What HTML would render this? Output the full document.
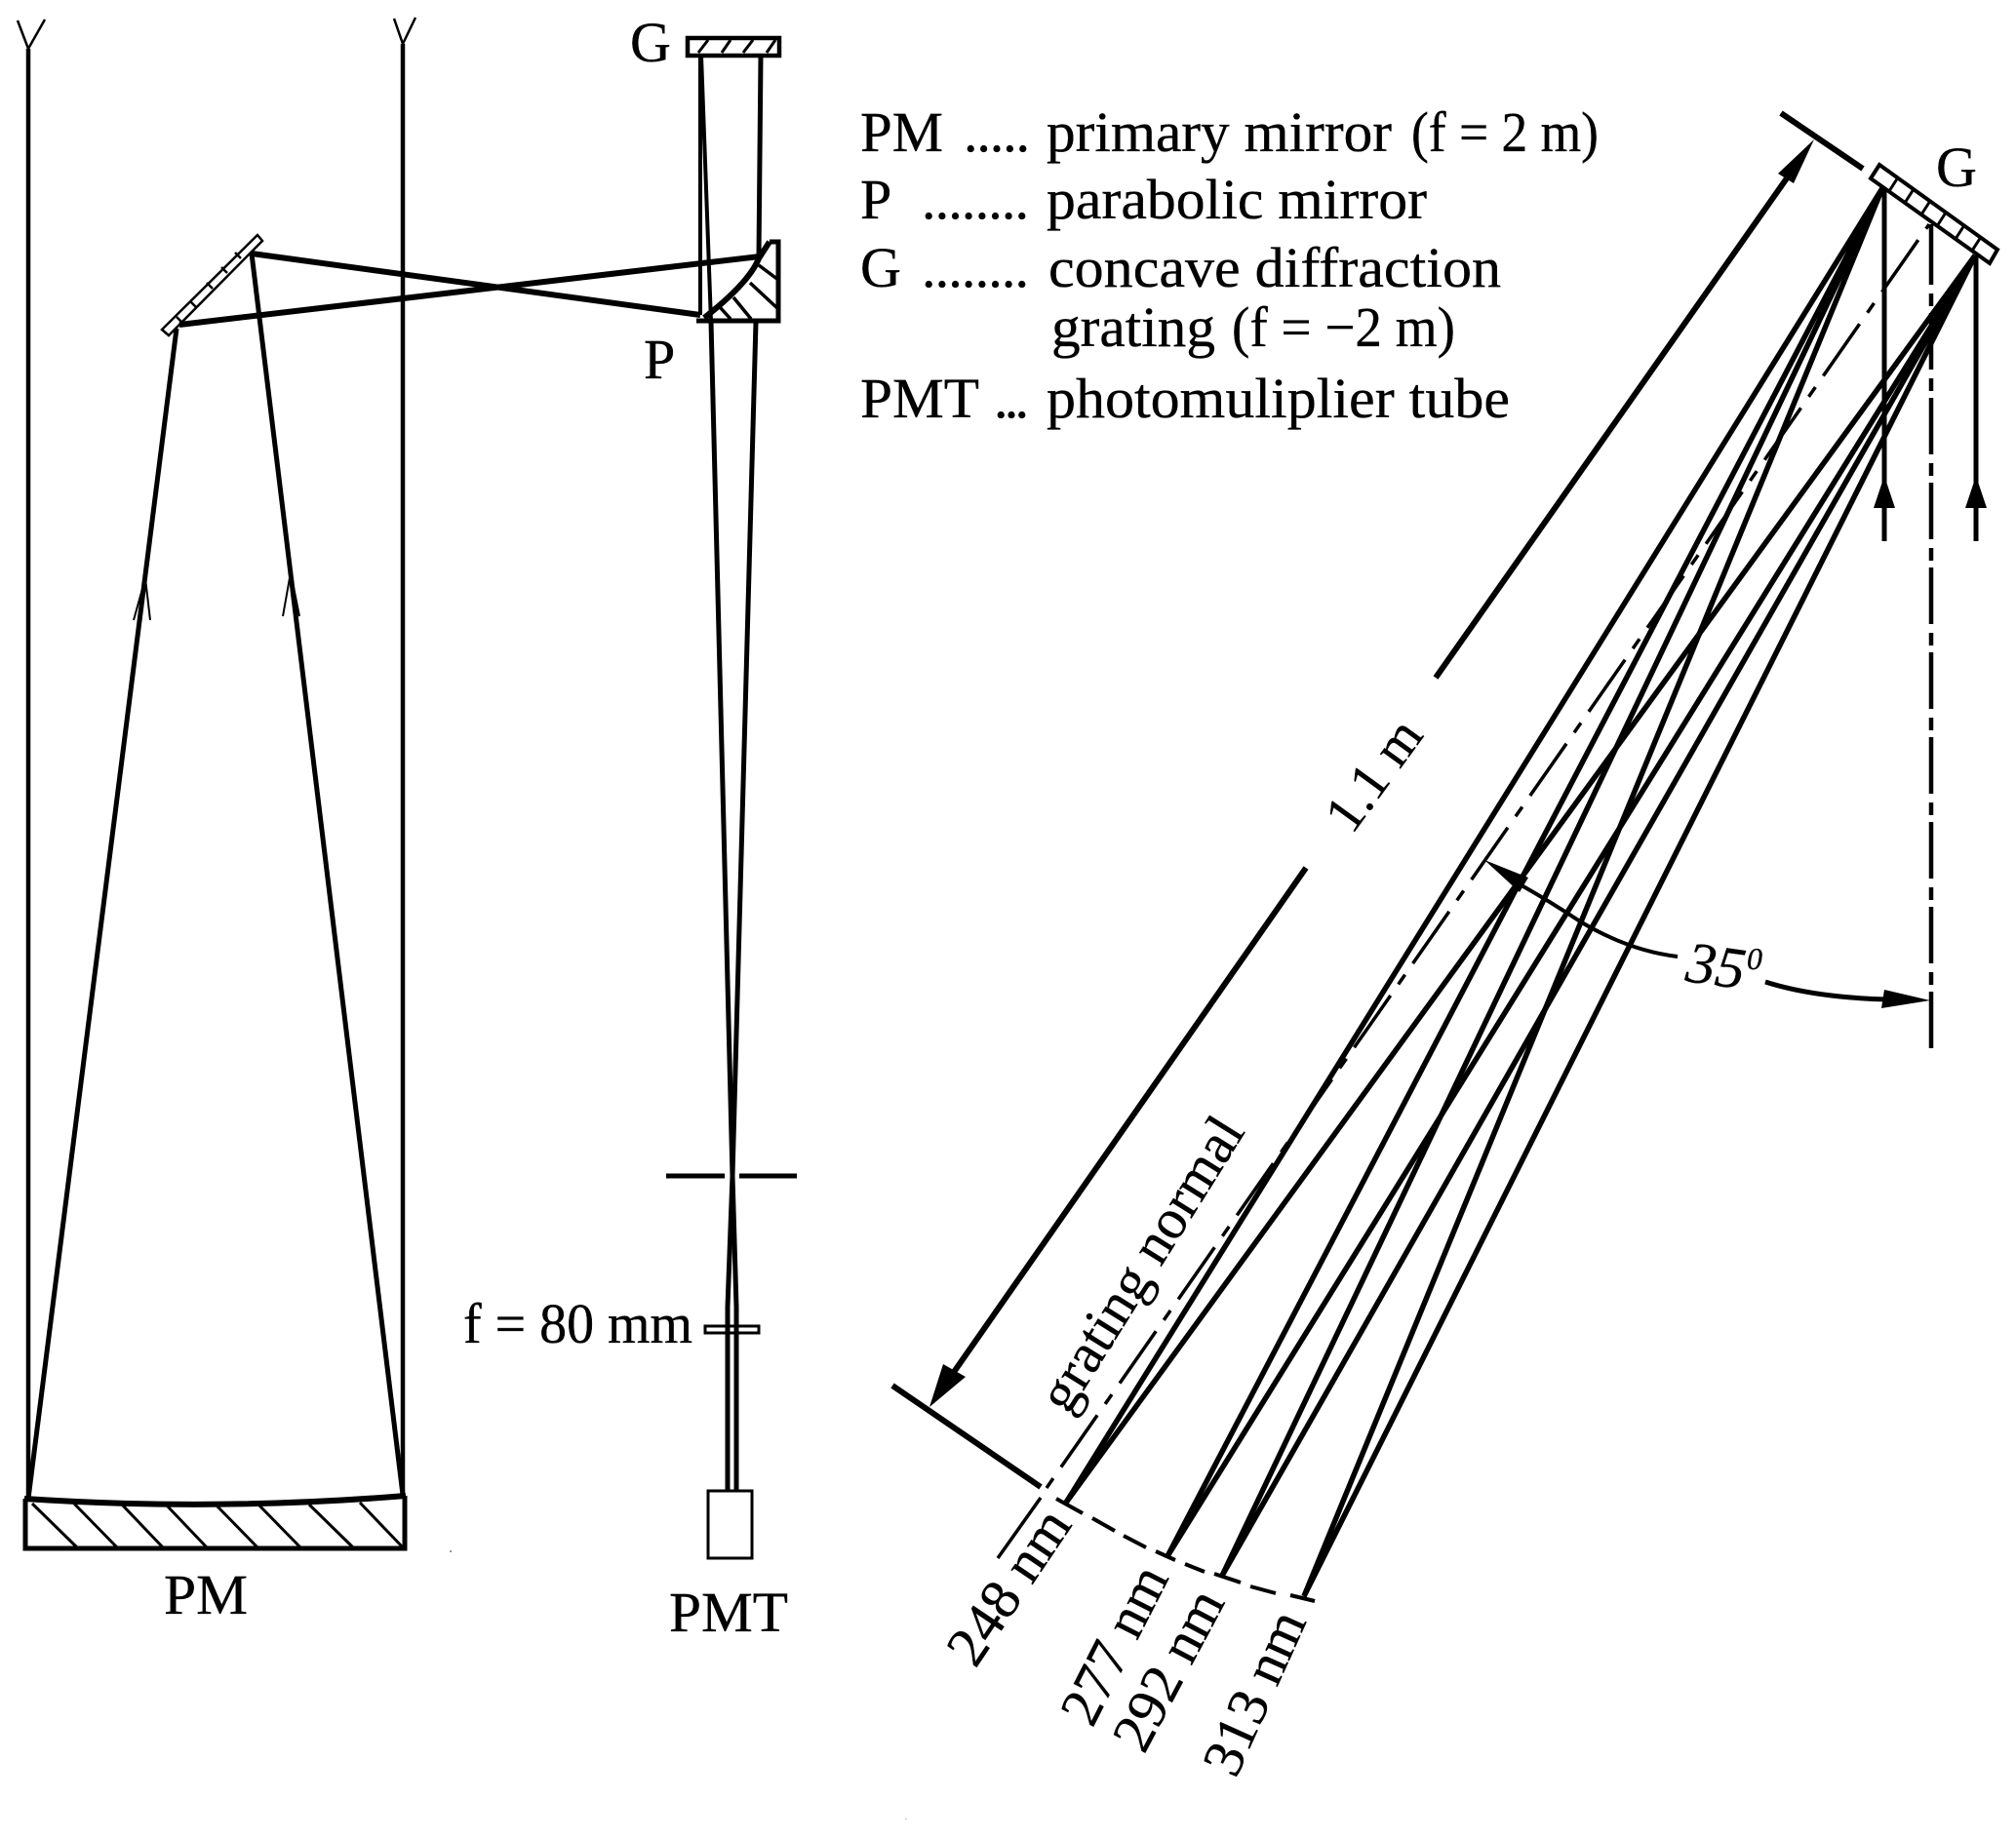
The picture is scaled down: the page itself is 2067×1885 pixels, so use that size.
<!DOCTYPE html>
<html>
<head>
<meta charset="utf-8">
<style>
html,body{margin:0;padding:0;background:#fff;}
svg{display:block;}
text{font-family:"Liberation Serif",serif;fill:#000;stroke:#000;stroke-width:0.35;}
</style>
</head>
<body>
<svg width="2067" height="1885" viewBox="0 0 2067 1885" xmlns="http://www.w3.org/2000/svg">
<g fill="none" stroke="#000" stroke-width="4">
  <!-- Left incoming beams -->
  <path d="M29 50V1537" stroke-width="4.5"/>
  <path d="M18 21L29 50L46 20" stroke-width="2.5"/>
  <path d="M413 45V1534" stroke-width="4.5"/>
  <path d="M404 19L413 45L426 18" stroke-width="2.5"/>
  <!-- Primary mirror -->
  <path d="M26 1537V1588H415V1534" stroke-width="5"/>
  <path d="M25 1537Q220 1550 416 1534" stroke-width="6"/>
  <g stroke-width="3">
    <path d="M33 1542L79 1587M76 1542L120 1587M125 1543L167 1587M171 1544L212 1587M222 1544L264 1587M266 1544L308 1587M317 1543L362 1587M369 1541L413 1587" />
  </g>
  <!-- rays to primary -->
  <path d="M181 337L29 1537" stroke-width="5"/>
  <path d="M258 260L413 1533" stroke-width="5"/>
  <path d="M137 636L149 593L154 636" stroke-width="2"/>
  <path d="M290 632L298 587L307 632" stroke-width="2"/>
  <!-- Secondary flat mirror -->
  <path d="M264 241L269 247L173 344L166 338Z" stroke-width="2.5"/>
  <path d="M181 325L187 331M195 309L201 315M212 290L218 296M227 274L233 280M241 259L247 265" stroke-width="2.5"/>
  <path d="M258 260L718 323" stroke-width="6"/>
  <path d="M184 333L779 263" stroke-width="6"/>
  <!-- Upper G -->
  <rect x="705" y="39" width="94" height="18" stroke-width="4.5"/>
  <path d="M716 54L726 41M740 54L749 41M762 54L772 41M786 54L795 41" stroke-width="3"/>
  <path d="M718 57V323" stroke-width="4"/>
  <path d="M719 57L729 330" stroke-width="4"/>
  <path d="M780 57L778 263" stroke-width="5"/>
  <!-- P block -->
  <path d="M714 329H798V248H789" stroke-width="5"/>
  <path d="M722 326Q768 290 778 265L789 248" stroke-width="6"/>
  <path d="M778 272L798 287M769 290L798 317M752 305L770 327M738 315L749 327" stroke-width="3.5"/>
  <!-- Down to slit -->
  <path d="M729 330L751 1206" stroke-width="5"/>
  <path d="M775 330L751 1206" stroke-width="5"/>
  <path d="M683 1206H743M758 1206H817" stroke-width="5"/>
  <path d="M751 1206L746 1340V1528" stroke-width="5"/>
  <path d="M751 1206L755 1340V1528" stroke-width="5"/>
  <rect x="723" y="1360" width="55" height="7" stroke-width="3"/>
  <rect x="726" y="1529" width="45" height="69" stroke-width="3"/>
  <!-- Spectrometer grating -->
  <path d="M1927 169L2048 256L2040 270L1918 183Z" stroke-width="4"/>
  <path d="M1937 196L1946 182M1953 208L1962 194M1970 220L1979 206M1986 232L1995 218M2005 245L2014 231M2022 257L2031 243" stroke-width="3"/>
  <!-- Incoming verticals -->
  <path d="M1932 193V555" stroke-width="5"/>
  <path d="M2026 262V555" stroke-width="5"/>
  <path d="M1980 230V234" stroke-width="4.5"/>
  <path d="M1980 234V1075" stroke-width="4.5" stroke-dasharray="58 9 13 7"/>
  <!-- Grating normal -->
  <path d="M1073 1526L1978 230" stroke-width="3.5" stroke-dasharray="12 14 65 14"/>
  <path d="M1023 1598L1067 1536" stroke-width="3.5"/>
  <!-- Rays -->
  <g stroke-width="5.5">
    <path d="M1930 193L1093 1541M1930 193L1197 1596M1930 193L1253 1616M1930 193L1337 1637"/>
    <path d="M2025 262L1093 1541M2025 262L1197 1596M2025 262L1253 1616M2025 262L1337 1637"/>
  </g>
  <!-- Focal dashed arc -->
  <path d="M1083 1537L1110 1552M1120 1557L1143 1570M1152 1575L1175 1587M1185 1591L1205 1600M1215 1604L1235 1612M1245 1614L1272 1623M1282 1627L1308 1634M1323 1636L1348 1642" stroke-width="4"/>
  <!-- 1.1 m dimension -->
  <path d="M1826 116L1910 173" stroke-width="6"/>
  <path d="M1848 160L1472 695" stroke-width="6"/>
  <path d="M1339 890L969 1420" stroke-width="6"/>
  <path d="M915 1421L1067 1525" stroke-width="6"/>
  <!-- 35 degree arc -->
  <path d="M1560 908Q1590 925 1620 945Q1670 975 1720 981" stroke-width="4"/>
  <path d="M1810 1007Q1860 1023 1935 1025" stroke-width="5"/>
</g>
<g fill="#000" stroke="none">
  <path d="M1860 143L1823 178L1839 188Z"/>
  <path d="M953 1443L967 1399L990 1412Z"/>
  <path d="M1932 488L1921 521H1943Z"/>
  <path d="M2026 488L2015 521H2037Z"/>
  <path d="M1522 882L1567 900L1558 915Z"/>
  <path d="M1979 1026L1932 1015L1929 1034Z"/>
</g>
<!-- Legend -->
<g font-size="58">
  <text x="882" y="155" textLength="85" lengthAdjust="spacingAndGlyphs">PM</text>
  <text x="988" y="155" textLength="68" lengthAdjust="spacing">.....</text>
  <text x="1073" y="155" textLength="354" lengthAdjust="spacingAndGlyphs">primary mirror</text>
  <text x="1447" y="155" textLength="192" lengthAdjust="spacingAndGlyphs">(f = 2 m)</text>
  <text x="882" y="224">P</text>
  <text x="945" y="224" textLength="110" lengthAdjust="spacing">........</text>
  <text x="1073" y="224" textLength="390" lengthAdjust="spacingAndGlyphs">parabolic mirror</text>
  <text x="882" y="294">G</text>
  <text x="945" y="294" textLength="110" lengthAdjust="spacing">........</text>
  <text x="1075" y="294" textLength="464" lengthAdjust="spacingAndGlyphs">concave diffraction</text>
  <text x="1078" y="355" textLength="168" lengthAdjust="spacingAndGlyphs">grating</text>
  <text x="1263" y="355" textLength="229" lengthAdjust="spacingAndGlyphs">(f = −2 m)</text>
  <text x="882" y="428" textLength="122" lengthAdjust="spacingAndGlyphs">PMT</text>
  <text x="1019" y="428" textLength="36" lengthAdjust="spacing">...</text>
  <text x="1073" y="428" textLength="475" lengthAdjust="spacingAndGlyphs">photomuliplier tube</text>
  <!-- Labels -->
  <text x="646" y="63">G</text>
  <text x="660" y="388">P</text>
  <text x="168" y="1655" textLength="86" lengthAdjust="spacingAndGlyphs">PM</text>
  <text x="686" y="1673" textLength="122" lengthAdjust="spacingAndGlyphs">PMT</text>
  <text x="475" y="1377" textLength="235" lengthAdjust="spacingAndGlyphs">f = 80 mm</text>
  <text x="1985" y="191">G</text>
</g>
<g font-size="58">
  <text transform="translate(1000,1712) rotate(-56)" textLength="179" lengthAdjust="spacingAndGlyphs">248 nm</text>
  <text transform="translate(1120,1773) rotate(-63)" textLength="174" lengthAdjust="spacingAndGlyphs">277 nm</text>
  <text transform="translate(1173,1800) rotate(-62)" textLength="178" lengthAdjust="spacingAndGlyphs">292 nm</text>
  <text transform="translate(1267,1825) rotate(-65.8)" textLength="178" lengthAdjust="spacingAndGlyphs">313 nm</text>
  <text transform="translate(1386,857) rotate(-54)" font-size="56" textLength="127" lengthAdjust="spacingAndGlyphs">1.1 m</text>
  <text transform="translate(1095,1452) rotate(-58)" font-size="58" textLength="344" lengthAdjust="spacingAndGlyphs">grating normal</text>
  <text transform="translate(1727,1006) rotate(8)" font-style="italic" font-size="60">35</text>
  <text transform="translate(1791,994)" font-style="italic" font-size="32">0</text>
</g>
<rect x="461" y="1590" width="2" height="2" fill="#999"/>
<rect x="928" y="1865" width="2" height="1" fill="#bbb"/>
</svg>
</body>
</html>
